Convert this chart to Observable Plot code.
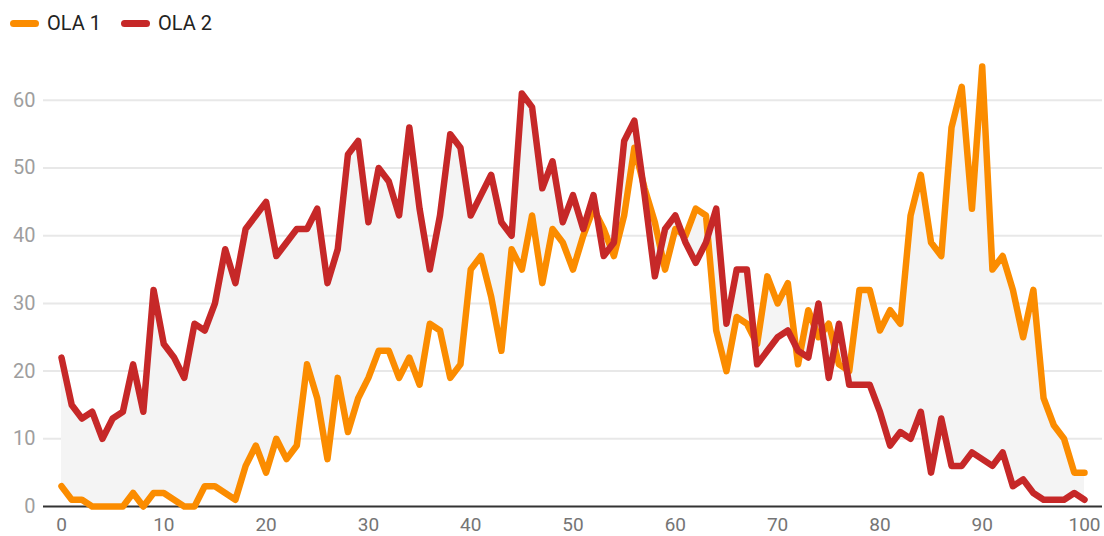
<!DOCTYPE html>
<html>
<head>
<meta charset="utf-8">
<script src="https://cdn.jsdelivr.net/npm/d3@7"></script>
<script src="https://cdn.jsdelivr.net/npm/@observablehq/plot@0.6"></script>
<style>
  html, body { margin: 0; padding: 0; background: #fff; }
  body { width: 1104px; height: 536px; overflow: hidden; font-family: Roboto, sans-serif; }
  #legend { height: 46px; display: flex; align-items: center; font-size: 20px; color: #222; }
  .item { display: flex; align-items: center; }
  .sw { display: inline-block; width: 29px; height: 7px; border-radius: 4px; margin-right: 8px; }
  svg { display: block; }
</style>
</head>
<body>
<div id="legend"></div>
<div id="chart"></div>
<script>
const seriesNames = ["OLA 1", "OLA 2"];
const seriesColors = ["#fb8c00", "#c62828"];
const xTicks = [0, 10, 20, 30, 40, 50, 60, 70, 80, 90, 100];
const yTicks = [0, 10, 20, 30, 40, 50, 60];

const ola1 = [3,1,1,0,0,0,0,2,0,2,2,1,0,0,3,3,2,1,6,9,5,10,7,9,21,16,7,19,11,16,19,23,23,19,22,18,27,26,19,21,35,37,31,23,38,35,43,33,41,39,35,40,44,41,37,43,53,47,42,35,41,40,44,43,26,20,28,27,24,34,30,33,21,29,25,27,21,20,32,32,26,29,27,43,49,39,37,56,62,44,65,35,37,32,25,32,16,12,10,5,5];
const ola2 = [22,15,13,14,10,13,14,21,14,32,24,22,19,27,26,30,38,33,41,43,45,37,39,41,41,44,33,38,52,54,42,50,48,43,56,44,35,43,55,53,43,46,49,42,40,61,59,47,51,42,46,41,46,37,39,54,57,46,34,41,43,39,36,39,44,27,35,35,21,23,25,26,23,22,30,19,27,18,18,18,14,9,11,10,14,5,13,6,6,8,7,6,8,3,4,2,1,1,1,2,1];

const data = ola1.map((v, i) => ({x: i, a: v, b: ola2[i]}));

// legend
const legend = document.getElementById("legend");
seriesNames.forEach((n, i) => {
  const it = document.createElement("div");
  it.className = "item";
  it.style.marginLeft = i === 0 ? "10px" : "20px";
  const sw = document.createElement("span");
  sw.className = "sw";
  sw.style.background = seriesColors[i];
  const t = document.createElement("span");
  t.textContent = n;
  it.appendChild(sw);
  it.appendChild(t);
  legend.appendChild(it);
});

const chart = Plot.plot({
  width: 1104,
  height: 490,
  marginTop: 20,
  marginBottom: 30,
  marginLeft: 43,
  marginRight: 2,
  style: {fontFamily: "Roboto, sans-serif", fontSize: "20px", background: "#fff"},
  x: {domain: [0, 100], insetLeft: 18, insetRight: 18},
  y: {domain: [0, 65]},
  marks: [
    Plot.ruleY(yTicks.filter(d => d > 0), {stroke: "#e8e8e8", strokeWidth: 2}),
    Plot.areaY(data, {x: "x", y1: "a", y2: "b", fill: "#f4f4f4"}),
    Plot.ruleY([0], {stroke: "#333", strokeWidth: 2}),
    Plot.lineY(data, {x: "x", y: "a", stroke: seriesColors[0], strokeWidth: 6.5, strokeLinejoin: "round", strokeLinecap: "round"}),
    Plot.lineY(data, {x: "x", y: "b", stroke: seriesColors[1], strokeWidth: 6.5, strokeLinejoin: "round", strokeLinecap: "round"}),
    Plot.axisY({ticks: yTicks, tickSize: 0, tickPadding: 8, label: null, fill: "#9e9e9e", fontSize: 20}),
    Plot.axisX({ticks: xTicks, tickSize: 0, tickPadding: 11, label: null, fill: "#757575", fontSize: 19})
  ]
});
document.getElementById("chart").appendChild(chart);
</script>
</body>
</html>
